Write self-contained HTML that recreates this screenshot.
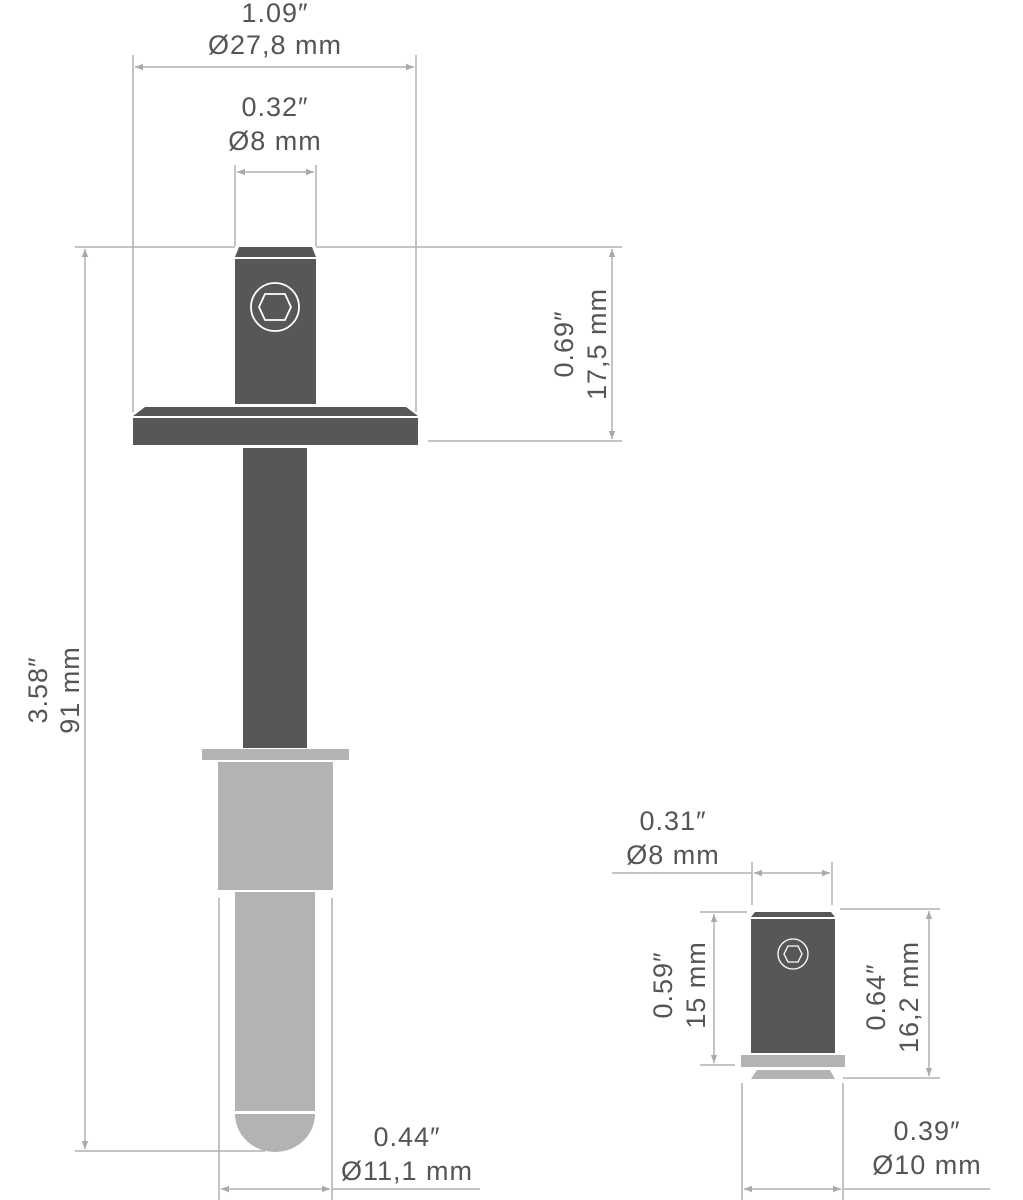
<!DOCTYPE html>
<html><head><style>html,body{margin:0;padding:0;background:#fff}svg{display:block}</style></head>
<body>
<svg width="1023" height="1200" viewBox="0 0 1023 1200" xmlns="http://www.w3.org/2000/svg">
<defs>
<marker id="a" viewBox="0 0 10 10" refX="10" refY="5" markerWidth="10" markerHeight="8" orient="auto-start-reverse" markerUnits="userSpaceOnUse">
<path d="M0,1 L10,5 L0,9 z" fill="#aaa"/></marker>
</defs>
<g stroke="#b0b0b0" stroke-width="1.5" fill="none">
<line x1="133" y1="55" x2="133" y2="412"/><line x1="416" y1="55" x2="416" y2="412"/>
<line x1="135" y1="67" x2="414" y2="67" marker-start="url(#a)" marker-end="url(#a)"/>
<line x1="235" y1="165" x2="235" y2="246"/><line x1="316" y1="165" x2="316" y2="246"/>
<line x1="237" y1="172" x2="314" y2="172" marker-start="url(#a)" marker-end="url(#a)"/>
<line x1="75" y1="247" x2="235" y2="247"/><line x1="316" y1="247" x2="622" y2="247"/>
<line x1="612" y1="249" x2="612" y2="439" marker-start="url(#a)" marker-end="url(#a)"/>
<line x1="428" y1="441" x2="622" y2="441"/>
<line x1="85" y1="249" x2="85" y2="1149" marker-start="url(#a)" marker-end="url(#a)"/>
<line x1="75" y1="1151" x2="265" y2="1151"/>
<line x1="219" y1="898" x2="219" y2="1200"/><line x1="332" y1="898" x2="332" y2="1200"/>
<line x1="221" y1="1189" x2="330" y2="1189" marker-start="url(#a)" marker-end="url(#a)"/>
<line x1="332" y1="1189" x2="480" y2="1189"/>
<line x1="752" y1="862" x2="752" y2="905"/><line x1="832" y1="862" x2="832" y2="905"/>
<line x1="754" y1="873" x2="830" y2="873" marker-start="url(#a)" marker-end="url(#a)"/>
<line x1="612" y1="873" x2="752" y2="873"/>
<line x1="714" y1="914" x2="714" y2="1063" marker-start="url(#a)" marker-end="url(#a)"/>
<line x1="700" y1="912" x2="747" y2="912"/><line x1="700" y1="1065" x2="735" y2="1065"/>
<line x1="929" y1="911" x2="929" y2="1076" marker-start="url(#a)" marker-end="url(#a)"/>
<line x1="840" y1="909" x2="940" y2="909"/><line x1="843" y1="1078" x2="940" y2="1078"/>
<line x1="742" y1="1083" x2="742" y2="1200"/><line x1="843" y1="1083" x2="843" y2="1200"/>
<line x1="744" y1="1189" x2="841" y2="1189" marker-start="url(#a)" marker-end="url(#a)"/>
<line x1="843" y1="1189" x2="990" y2="1189"/>
</g>
<g fill="#575756">
<path d="M239,247 L312,247 L316,257 L235,257 z"/>
<rect x="235" y="259" width="81" height="145"/>
<path d="M145,407 L406,407 L418,416 L133,416 z"/>
<rect x="133" y="418" width="285" height="27"/>
<rect x="243" y="448" width="64" height="300"/>
</g>
<g fill="none" stroke="#fff" stroke-width="1.8">
<circle cx="275" cy="307" r="24"/>
<path d="M265,294 L285,294 L291,307 L285,320 L265,320 L259,307 z"/>
</g>
<g fill="#b3b3b3">
<rect x="202" y="749" width="147" height="11"/>
<rect x="218" y="762" width="115" height="128"/>
<rect x="235" y="892" width="80" height="219"/>
<path d="M235,1114 L315,1114 A40,38 0 0 1 235,1114 z"/>
</g>
<g fill="#575756">
<path d="M755,912 L831,912 L835,917 L751,917 z"/>
<rect x="751" y="919" width="84" height="134"/>
</g>
<g fill="none" stroke="#fff" stroke-width="1.3">
<circle cx="793" cy="954" r="15"/>
<path d="M788,946 L798,946 L802,954 L798,962 L788,962 L784,954 z"/>
</g>
<g fill="#b3b3b3">
<rect x="741" y="1055" width="104" height="12"/>
<path d="M757,1070 L830,1070 L835,1079 L751,1079 z"/>
</g>
<g font-family="Liberation Sans, sans-serif" font-size="27" letter-spacing="1" fill="#555" text-anchor="middle">
<text x="275" y="22">1.09″</text>
<text x="275" y="54">Ø27,8 mm</text>
<text x="275" y="116">0.32″</text>
<text x="275" y="150">Ø8 mm</text>
<text transform="translate(573,344) rotate(-90)">0.69″</text>
<text transform="translate(606,344) rotate(-90)">17,5 mm</text>
<text transform="translate(47,690) rotate(-90)">3.58″</text>
<text transform="translate(79,690) rotate(-90)">91 mm</text>
<text x="407" y="1146">0.44″</text>
<text x="407" y="1180">Ø11,1 mm</text>
<text x="673" y="830">0.31″</text>
<text x="673" y="864">Ø8 mm</text>
<text transform="translate(672,985) rotate(-90)">0.59″</text>
<text transform="translate(705,985) rotate(-90)">15 mm</text>
<text transform="translate(885,997) rotate(-90)">0.64″</text>
<text transform="translate(918,997) rotate(-90)">16,2 mm</text>
<text x="927" y="1140">0.39″</text>
<text x="927" y="1174">Ø10 mm</text>
</g>
</svg>
</body></html>
